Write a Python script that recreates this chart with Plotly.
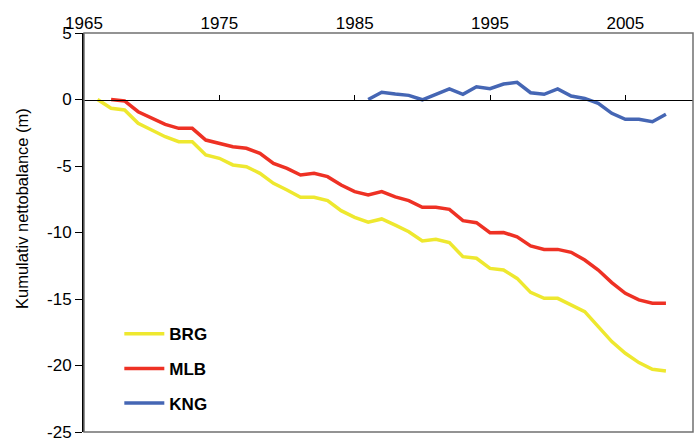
import plotly.graph_objects as go

years_brg = list(range(1966, 2009))
brg = [0.0, -0.66, -0.79, -1.79, -2.29, -2.8, -3.17, -3.17, -4.17, -4.42,
       -4.92, -5.05, -5.55, -6.3, -6.8, -7.35, -7.35, -7.6, -8.36, -8.86,
       -9.23, -8.98, -9.45, -9.94, -10.64, -10.51, -10.76, -11.82, -11.94, -12.7,
       -12.82, -13.45, -14.5, -14.95, -14.95, -15.45, -15.95, -17.08, -18.2, -19.08,
       -19.78, -20.29, -20.41]

years_mlb = list(range(1967, 2009))
mlb = [0.0, -0.11, -0.92, -1.42, -1.87, -2.17, -2.17, -3.05, -3.3, -3.55,
       -3.67, -4.05, -4.8, -5.18, -5.68, -5.55, -5.8, -6.43, -6.93, -7.18,
       -6.93, -7.32, -7.6, -8.1, -8.1, -8.26, -9.11, -9.26, -10.01, -10.0,
       -10.33, -11.01, -11.28, -11.27, -11.49, -12.07, -12.82, -13.77, -14.57, -15.07,
       -15.32, -15.32]

years_kng = list(range(1986, 2009))
kng = [0.0, 0.55, 0.41, 0.31, -0.02, 0.39, 0.79, 0.39, 0.96, 0.81,
       1.16, 1.29, 0.51, 0.39, 0.79, 0.26, 0.08, -0.29, -1.04, -1.49,
       -1.49, -1.67, -1.11]

x_ticks = [1965, 1975, 1985, 1995, 2005]
zero_ticks = [1975, 1985, 1995, 2005]
y_ticks = [5, 0, -5, -10, -15, -20, -25]
y_ticktext = ["5", "0", "-5", "-10", "-15", "-20", "-25"]

FONT = "Liberation Sans, Arial, sans-serif"

fig = go.Figure()
series = [
    ("BRG", years_brg, brg, "#EEE82F"),
    ("MLB", years_mlb, mlb, "#EE3124"),
    ("KNG", years_kng, kng, "#4566B4"),
]
for name, xs, ys, col in series:
    fig.add_trace(go.Scatter(x=xs, y=ys, mode="lines", name=name,
                             legendgroup=name,
                             line=dict(color=col, width=3.5)))

# helper trace for the zero-line tick axis
fig.add_trace(go.Scatter(x=[1965], y=[None], xaxis="x2", showlegend=False,
                         hoverinfo="skip", mode="lines"))

fig.update_layout(
    width=698, height=440,
    margin=dict(l=84, r=5, t=33, b=8),
    paper_bgcolor="white", plot_bgcolor="rgba(0,0,0,0)",
    font=dict(family=FONT, size=17, color="black"),
    showlegend=True,
    legend=dict(x=0.058, y=0.29, xanchor="left", yanchor="top",
                bgcolor="rgba(0,0,0,0)", traceorder="grouped",
                tracegroupgap=9.5, itemwidth=40,
                font=dict(family=FONT, size=17, color="black", weight="bold")),
    xaxis=dict(range=[1965, 2010], side="top", tickvals=x_ticks,
               ticks="", showline=False, showgrid=False, zeroline=False,
               ticklabelstandoff=0, automargin=False),
    xaxis2=dict(range=[1965, 2010], overlaying="x", anchor="free",
                position=5 / 6, side="top", tickvals=zero_ticks,
                ticks="outside", ticklen=5, tickwidth=1, tickcolor="black",
                showticklabels=False, showline=True, linecolor="black",
                linewidth=1, showgrid=False, zeroline=False,
                automargin=False),
    yaxis=dict(range=[-25, 5], tickvals=y_ticks, ticktext=y_ticktext,
               ticks="outside", ticklen=7,
               tickcolor="black", tickwidth=1, showline=True,
               linecolor="black", linewidth=2, showgrid=False,
               zeroline=False, automargin=False, ticklabeloverflow="allow"),
    shapes=[dict(type="rect", xref="paper", yref="paper", x0=0, x1=1,
                 y0=0, y1=1, line=dict(color="#707070", width=1.5),
                 layer="above")],
    annotations=[dict(text="Kumulativ nettobalance (m)", xref="paper",
                      yref="paper", x=-0.102, y=0.561, xanchor="center",
                      yanchor="middle", textangle=-90,
                      showarrow=False, font=dict(family=FONT, size=16.5))],
)

fig.write_html("out.html", config={"displayModeBar": False},
               post_script="document.body.style.margin='0';document.body.style.padding='0';")
